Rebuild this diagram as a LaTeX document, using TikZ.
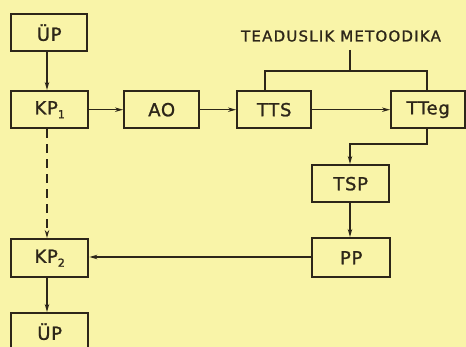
\documentclass[tikz,border=0pt]{standalone}
\usepackage{fontspec}
\setmainfont{DejaVu Sans}
\newfontfamily\lab[LetterSpace=4, FakeBold=1.2]{DejaVu Sans}
\newfontfamily\ttl[LetterSpace=8, FakeBold=1.2]{DejaVu Sans}
\usetikzlibrary{arrows.meta}
\definecolor{paper}{RGB}{249,244,168}
\definecolor{ink}{RGB}{45,38,25}
\newcommand{\sbs}[1]{\raisebox{-0.4ex}{\fontsize{11}{11}\selectfont #1}}
\tikzset{
  blk/.style={draw=ink, line width=2.4pt, minimum height=37pt, inner sep=0pt, font=\lab\fontsize{18}{18}\selectfont, text=ink, anchor=north west},
  con/.style={draw=ink, line width=1.2pt},
  arr/.style={con, -{Stealth[length=8pt, width=4.5pt]}},
}
\begin{document}
\begin{tikzpicture}[x=1pt, y=-1pt]
\fill[paper] (0,0) rectangle (466,347);
\useasboundingbox (0,0) rectangle (466,347);
\node[blk, minimum width=76pt] (up1) at (10,13) {ÜP};
\node[blk, minimum width=77pt] (kp1) at (10,90) {KP\sbs{1}};
\node[blk, minimum width=75pt] (ao) at (123,90) {AO};
\node[blk, minimum width=74pt] (tts) at (236,90) {TTS};
\node[blk, minimum width=74pt] (tteg) at (390,90) {TTeg};
\node[blk, minimum width=77pt] (tsp) at (311,164) {TSP};
\node[blk, minimum width=78pt, minimum height=39pt] (pp) at (311,237) {PP};
\node[blk, minimum width=77pt, minimum height=38pt] (kp2) at (10,238) {KP\sbs{2}};
\node[blk, minimum width=77pt] (up2) at (10,312) {ÜP};
\node[text=ink, font=\ttl\fontsize{15}{15}\selectfont, inner sep=0pt] (tm) at (341,36) {TEADUSLIK METOODIKA};
\coordinate (tmb) at (350,50);
\coordinate (tmj) at (350,71);
\draw[con] (tmb) -- (tmj);
\draw[con] (tts.north -| 265,0) |- (tmj) -| (tteg.north -| 427,0);
\draw[arr] (up1.south -| 47,0) -- (kp1.north -| 47,0);
\draw[arr] (kp1) -- (ao);
\draw[arr] (ao) -- (tts);
\draw[arr] (tts) -- (tteg);
\coordinate (tj) at (350,144);
\draw[arr] (tteg.south -| 427,0) |- (tj) -- (tsp.north -| 350,0);
\draw[arr] (tsp.south -| 350,0) -- (pp.north -| 350,0);
\draw[arr] (pp.west |- 0,257) -- (kp2.east |- 0,257);
\draw[arr, dashed, dash pattern=on 9pt off 6pt] (kp1.south -| 47,0) -- (kp2.north -| 47,0);
\draw[arr] (kp2.south -| 47,0) -- (up2.north -| 47,0);
\end{tikzpicture}
\end{document}
